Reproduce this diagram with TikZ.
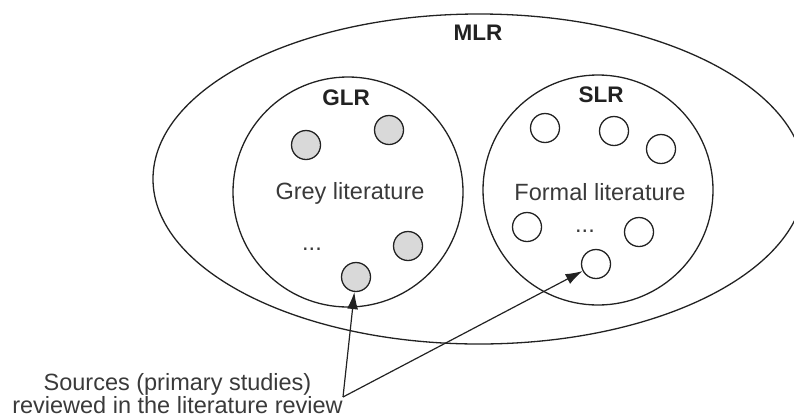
\documentclass[tikz,border=0pt]{standalone}
\usepackage{fontspec}
\setmainfont{Liberation Sans}
\usetikzlibrary{shapes.geometric,arrows.meta}
\definecolor{ink}{HTML}{222222}
\definecolor{txt}{HTML}{3A3A3A}
\definecolor{studyfill}{HTML}{D9D9D9}
\begin{document}
\begin{tikzpicture}[x=1pt,y=-1pt,
  outline/.style={draw=ink,line width=1.3pt},
  region/.style={outline,circle,minimum size=230pt,inner sep=0pt},
  study/.style={outline,circle,minimum size=29pt,inner sep=0pt},
  greystudy/.style={study,fill=studyfill},
  formalstudy/.style={study,fill=white},
  boldlabel/.style={font=\fontsize{22.5}{22.5}\selectfont\bfseries,text=ink,inner sep=0pt},
  plainlabel/.style={font=\fontsize{23.5}{23.5}\selectfont,text=txt,inner sep=0pt},
  pointer/.style={draw=ink,line width=1.2pt,-{Latex[length=17pt,width=11pt]}}]
\useasboundingbox (0,0) rectangle (794,418);
% outer multivocal review (runs past the right edge)
\node[outline,ellipse,minimum width=652pt,minimum height=330pt,inner sep=0pt] (mlr) at (479,179) {};
\node[boldlabel] (mlrlab) at (478,33) {MLR};
% grey literature review
\node[region] (glr) at (348,192) {};
\node[boldlabel] (glrlab) at (346,98) {GLR};
\node[plainlabel] (greytxt) at (350,193) {Grey literature};
\node[greystudy] (g1) at (306,145) {};
\node[greystudy] (g2) at (389,130) {};
\node[greystudy] (g3) at (408,246) {};
\node[greystudy] (g4) at (356,277) {};
\node[plainlabel] (gdots) at (312,249) {...};
% formal (systematic) literature review
\node[region] (slr) at (598,190) {};
\node[boldlabel] (slrlab) at (601,95) {SLR};
\node[plainlabel] (formaltxt) at (600,192) {Formal literature};
\node[formalstudy] (f1) at (545,128) {};
\node[formalstudy] (f2) at (614,131) {};
\node[formalstudy] (f3) at (661,149) {};
\node[formalstudy] (f4) at (527,227) {};
\node[formalstudy] (f5) at (639,232) {};
\node[formalstudy] (f6) at (596,264) {};
\node[plainlabel] (fdots) at (585,231) {...};
% caption and pointers
\node[plainlabel,align=center,font=\fontsize{23.5}{20}\selectfont] (caption) at (177.5,394)
  {Sources (primary studies)\\reviewed in the literature review};
\coordinate (fork) at (343,397);
\draw[pointer] (fork) -- (g4);
\draw[pointer] (fork) -- (f6);
\end{tikzpicture}
\end{document}
